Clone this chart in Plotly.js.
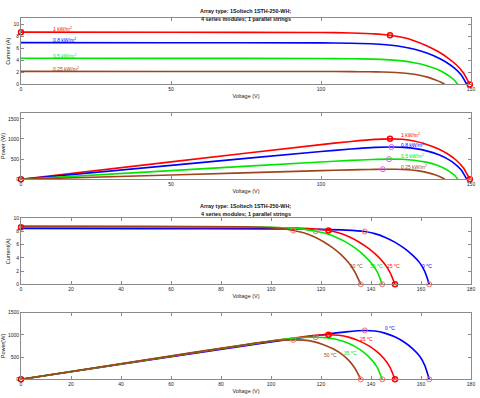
<!DOCTYPE html>
<html>
<head>
<meta charset="utf-8">
<script src="https://cdn.plot.ly/plotly-3.0.1.min.js"></script>
<style>
  html, body { margin: 0; padding: 0; background: #fff; }
  #chart { width: 480px; height: 398px; }
</style>
</head>
<body>
<div id="chart"></div>
<script>
// I-V curves at 25 C for four irradiance levels
var v1000 = [0, 50, 100, 110, 118, 123, 127, 131, 135, 139, 142, 145, 147.5, 149.6];
var i1000 = [8.66, 8.64, 8.6, 8.52, 8.38, 8.15, 7.8, 7.25, 6.45, 5.45, 4.5, 3.3, 1.9, 0];
var v800 = [0, 50, 100, 110, 118, 123.5, 127.5, 131.5, 135.5, 139.5, 142, 144.5, 146.7, 148.6];
var i800 = [6.93, 6.91, 6.88, 6.82, 6.71, 6.48, 6.2, 5.78, 5.15, 4.3, 3.6, 2.7, 1.6, 0];
var v500 = [0, 50, 100, 110, 117, 122.7, 127, 131, 135, 138.5, 141, 143, 144.5, 145.6];
var i500 = [4.33, 4.32, 4.3, 4.26, 4.19, 4.07, 3.9, 3.6, 3.15, 2.55, 1.95, 1.3, 0.7, 0];
var v250 = [0, 50, 100, 110, 116, 120.6, 125, 129, 132.5, 135.5, 138, 140, 141.3];
var i250 = [2.17, 2.16, 2.15, 2.13, 2.1, 2.07, 1.98, 1.82, 1.58, 1.22, 0.8, 0.38, 0];

// I-V curves at 1 kW/m2 for four temperatures (25 C is the same as v1000/i1000)
var vT0 = [0, 50, 100, 120, 130, 137.5, 141.5, 145.5, 149.5, 153.5, 156.5, 159.5, 161.5, 163.3];
var iT0 = [8.45, 8.44, 8.4, 8.33, 8.22, 8.0, 7.68, 7.15, 6.4, 5.4, 4.45, 3.25, 1.95, 0];
var vT35 = [0, 50, 100, 105, 112, 117.9, 122, 126, 130, 134, 137, 140, 142.5, 144.5];
var iT35 = [8.72, 8.7, 8.64, 8.56, 8.4, 8.04, 7.7, 7.15, 6.4, 5.4, 4.45, 3.25, 1.9, 0];
var vT50 = [0, 50, 90, 98, 104, 108.9, 113, 117, 121, 125, 128, 131, 133.5, 135.9];
var iT50 = [8.82, 8.8, 8.72, 8.62, 8.45, 8.15, 7.8, 7.25, 6.45, 5.45, 4.5, 3.3, 1.9, 0];

// maximum power points (V, I) and open circuit voltages
var irrLabels = ['1 kW/m<sup>2</sup>', '0.8 kW/m<sup>2</sup>', '0.5 kW/m<sup>2</sup>', '0.25 kW/m<sup>2</sup>'];
var irrMppV = [123, 123.5, 122.7, 120.6];
var irrMppI = [8.15, 6.48, 4.07, 2.07];
var tempLabels = ['0 <sup>o</sup>C', '25 <sup>o</sup>C', '35 <sup>o</sup>C', '50 <sup>o</sup>C'];
var tempMppV = [137.5, 123, 117.9, 108.9];
var tempMppI = [8.0, 8.15, 8.04, 8.15];
var tempVoc = [163.3, 149.6, 144.5, 135.9];

var RED = '#ff0000', BLUE = '#0000ff', GREEN = '#00e600', BROWN = '#a0441c', MAG = '#ee55ee', PINK = '#ff6a6a';

function power(v, i) { return v.map((x, k) => x * i[k]); }

function line(x, y, color, xa, ya) {
  return {x: x, y: y, type: 'scatter', mode: 'lines', xaxis: xa, yaxis: ya,
          line: {color: color, width: 1.6, shape: 'spline', smoothing: 0.6},
          hoverinfo: 'skip', showlegend: false};
}
function dots(x, y, color, xa, ya, w) {
  return {x: x, y: y, type: 'scatter', mode: 'markers', xaxis: xa, yaxis: ya, cliponaxis: false,
          marker: {symbol: 'circle-open', size: 5, color: color, line: {width: w || 1, color: color}},
          hoverinfo: 'skip', showlegend: false};
}

var irrV = [v1000, v800, v500, v250];
var irrI = [i1000, i800, i500, i250];
var irrCol = [RED, BLUE, GREEN, BROWN];
var tV = [vT0, v1000, vT35, vT50];
var tI = [iT0, i1000, iT35, iT50];
var tCol = [BLUE, RED, GREEN, BROWN];

var data = [];
// plot 1 - I-V irradiance
irrV.forEach((v, k) => data.push(line(v, irrI[k], irrCol[k], 'x', 'y')));
data.push(dots([0, irrMppV[0], v1000[v1000.length - 1]], [i1000[0], irrMppI[0], 0], RED, 'x', 'y', 1.5));
// plot 2 - P-V irradiance
irrV.forEach((v, k) => data.push(line(v, power(v, irrI[k]), irrCol[k], 'x2', 'y2')));
data.push(dots(irrMppV.slice(1), irrMppV.slice(1).map((x, k) => x * irrMppI[k + 1]), MAG, 'x2', 'y2'));
data.push(dots([0, irrMppV[0], v1000[v1000.length - 1]], [0, irrMppV[0] * irrMppI[0], 0], RED, 'x2', 'y2', 1.5));
// plot 3 - I-V temperature
tV.forEach((v, k) => data.push(line(v, tI[k], tCol[k], 'x3', 'y3')));
data.push(dots([tempMppV[0], tempMppV[2], tempMppV[3]], [tempMppI[0], tempMppI[2], tempMppI[3]], PINK, 'x3', 'y3'));
data.push(dots([tempVoc[0], tempVoc[2], tempVoc[3]], [0, 0, 0], PINK, 'x3', 'y3'));
data.push(dots([0, tempMppV[1], tempVoc[1]], [i1000[0], tempMppI[1], 0], RED, 'x3', 'y3', 1.5));
// plot 4 - P-V temperature
tV.forEach((v, k) => data.push(line(v, power(v, tI[k]), tCol[k], 'x4', 'y4')));
data.push(dots([tempMppV[0], tempMppV[2], tempMppV[3]],
               [tempMppV[0] * tempMppI[0], tempMppV[2] * tempMppI[2], tempMppV[3] * tempMppI[3]], PINK, 'x4', 'y4'));
data.push(dots([tempVoc[0], tempVoc[2], tempVoc[3]], [0, 0, 0], PINK, 'x4', 'y4'));
data.push(dots([0, tempMppV[1], tempVoc[1]], [0, tempMppV[1] * tempMppI[1], 0], RED, 'x4', 'y4', 1.5));

var FONT = 'Liberation Sans, Arial, sans-serif';
function ax(extra) {
  return Object.assign({showline: true, mirror: 'ticks', linecolor: '#8a8a8a', linewidth: 1,
    ticks: 'inside', ticklen: 3, tickcolor: '#8a8a8a', showgrid: false, zeroline: false,
    tickfont: {size: 5, color: '#222'}, fixedrange: true}, extra);
}
function axTitle(t) { return {text: t, font: {size: 5.5, color: '#222'}, standoff: 2}; }

var xd = [0.04375, 0.98125];
var layout = {
  width: 480, height: 398,
  margin: {l: 0, r: 0, t: 0, b: 0},
  paper_bgcolor: '#fff', plot_bgcolor: '#fff',
  font: {family: FONT, color: '#222'},
  xaxis: ax({domain: xd, anchor: 'y', range: [0, 150], tickvals: [0, 50, 100, 150], title: axTitle('Voltage (V)')}),
  yaxis: ax({domain: [0.7877, 0.9548], anchor: 'x', range: [0, 11], tickvals: [0, 2, 4, 6, 8, 10], title: axTitle('Current (A)')}),
  xaxis2: ax({domain: xd, anchor: 'y2', range: [0, 150], tickvals: [0, 50, 100, 150], title: axTitle('Voltage (V)')}),
  yaxis2: ax({domain: [0.5495, 0.7168], anchor: 'x2', range: [0, 1650], tickvals: [0, 500, 1000, 1500], title: axTitle('Power (W)')}),
  xaxis3: ax({domain: xd, anchor: 'y3', range: [0, 180], dtick: 20, title: axTitle('Voltage (V)')}),
  yaxis3: ax({domain: [0.2857, 0.4514], anchor: 'x3', range: [0, 10], dtick: 2, title: axTitle('Current(A)')}),
  xaxis4: ax({domain: xd, anchor: 'y4', range: [0, 180], dtick: 20, title: axTitle('Voltage (V)')}),
  yaxis4: ax({domain: [0.0470, 0.2143], anchor: 'x4', range: [0, 1500], tickvals: [0, 500, 1000, 1500], title: axTitle('Power(W)')}),
  annotations: []
};

// titles
[[0.9855, 'Array type: 1Soltech 1STH-250-WH;'], [0.9645, '4 series modules; 1 parallel strings'],
 [0.4825, 'Array type: 1Soltech 1STH-250-WH;'], [0.4620, '4 series modules; 1 parallel strings']].forEach(t => {
  layout.annotations.push({xref: 'paper', yref: 'paper', x: 0.5125, y: t[0], text: '<b>' + t[1] + '</b>',
    showarrow: false, font: {size: 5.4, color: '#111'}});
});

// curve labels
var irrLabI = [9.17, 7.35, 4.76, 2.56];
var irrLabP = [1107, 840, 565, 315];
irrLabels.forEach((t, k) => {
  layout.annotations.push({xref: 'x', yref: 'y', x: 10, y: irrLabI[k], text: t, xanchor: 'left',
    showarrow: false, font: {size: 5, color: irrCol[k]}});
  layout.annotations.push({xref: 'x2', yref: 'y2', x: 126, y: irrLabP[k], text: t, xanchor: 'left',
    showarrow: false, font: {size: 5, color: irrCol[k]}});
});
var tLabV3 = [162.3, 149, 142.3, 134.2];
var tLabV4 = [147.6, 138, 131.6, 123.6];
var tLabP4 = [1148, 900, 600, 547];
tempLabels.forEach((t, k) => {
  layout.annotations.push({xref: 'x3', yref: 'y3', x: tLabV3[k], y: 2.7, text: t,
    showarrow: false, font: {size: 5, color: tCol[k]}});
  layout.annotations.push({xref: 'x4', yref: 'y4', x: tLabV4[k], y: tLabP4[k], text: t,
    showarrow: false, font: {size: 5, color: tCol[k]}});
});

Plotly.newPlot('chart', data, layout, {staticPlot: true});
</script>
</body>
</html>
